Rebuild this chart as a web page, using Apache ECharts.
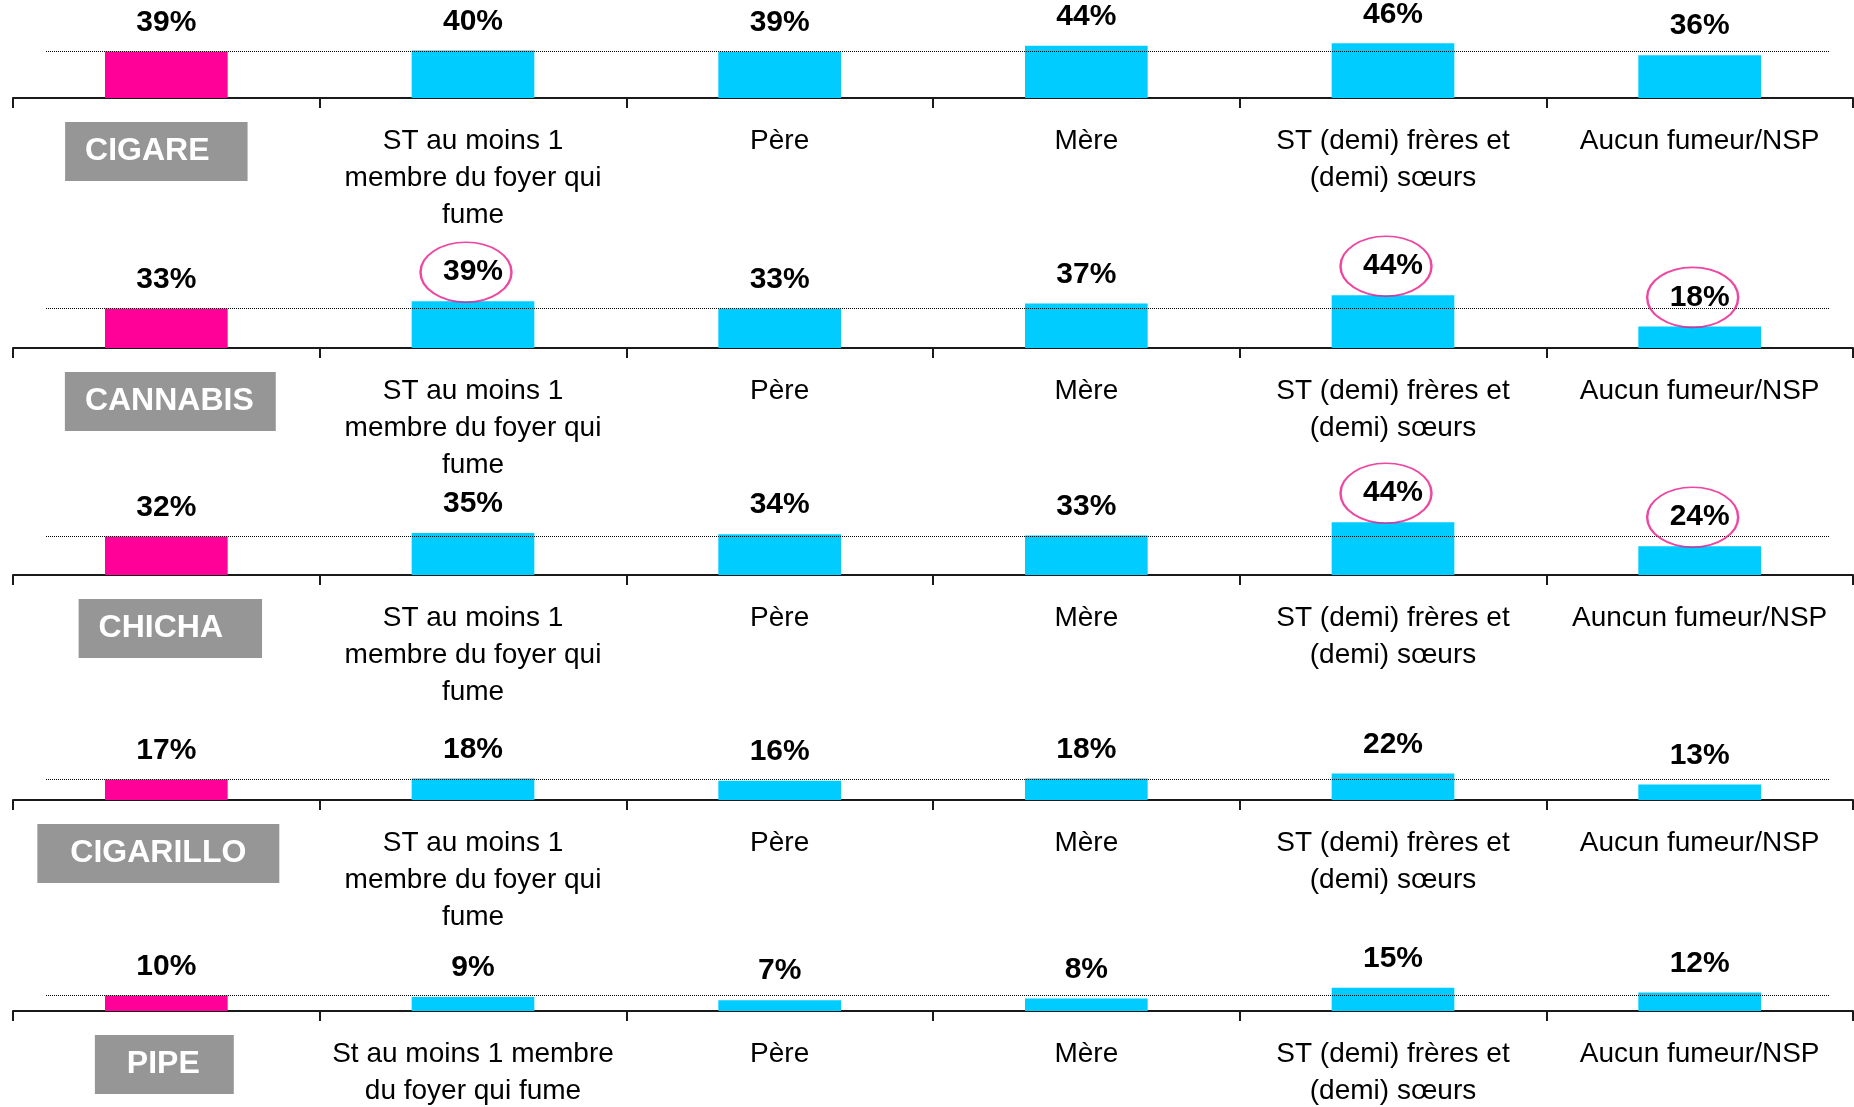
<!DOCTYPE html>
<html>
<head>
<meta charset="utf-8">
<script src="https://cdn.jsdelivr.net/npm/echarts@6/dist/echarts.min.js"></script>
<style>
  html, body { margin: 0; padding: 0; background: #fff; }
  #chart { width: 1854px; height: 1107px; }
</style>
</head>
<body>
<div id="chart"></div>
<script>
// produits (un panneau par produit)
const products = ['CIGARE', 'CANNABIS', 'CHICHA', 'CIGARILLO', 'PIPE'];

// libellés des colonnes de chaque panneau
const membersStd = ['ST au moins 1\nmembre du foyer qui\nfume', 'Père', 'Mère', 'ST (demi) frères et\n(demi) sœurs', 'Aucun fumeur/NSP'];
const membersChicha = ['ST au moins 1\nmembre du foyer qui\nfume', 'Père', 'Mère', 'ST (demi) frères et\n(demi) sœurs', 'Auncun fumeur/NSP'];
const membersPipe = ['St au moins 1 membre\ndu foyer qui fume', 'Père', 'Mère', 'ST (demi) frères et\n(demi) sœurs', 'Aucun fumeur/NSP'];
const memberLabels = [membersStd, membersStd, membersChicha, membersStd, membersPipe];

// valeurs en % : total puis chaque membre
const cigareValues = [39, 40, 39, 44, 46, 36];
const cannabisValues = [33, 39, 33, 37, 44, 18];
const chichaValues = [32, 35, 34, 33, 44, 24];
const cigarilloValues = [17, 18, 16, 18, 22, 13];
const pipeValues = [10, 9, 7, 8, 15, 12];
const values = [cigareValues, cannabisValues, chichaValues, cigarilloValues, pipeValues];

// index des valeurs entourées
const circled = [[], [1, 4, 5], [4, 5], [], []];

// mise en page (pixels)
const layout = [
    {axisY: 98, scale: 1.19, padL: 20, padR: 38, shift: -10},
    {axisY: 348, scale: 1.2, padL: 20, padR: 22, shift: 4},
    {axisY: 575, scale: 1.2, padL: 20, padR: 39, shift: 4},
    {axisY: 800, scale: 1.2, padL: 33, padR: 33, shift: -8},
    {axisY: 1011, scale: 1.55, padL: 32, padR: 34, shift: -2},
];

const FONT = '"Liberation Sans", Arial, sans-serif';
const PINK = '#FF0099';
const BLUE = '#00CCFF';
const Y_MAX = 60;

const grids = [], xAxes = [], yAxes = [], series = [];

products.forEach((name, i) => {
    const L = layout[i];
    const h = Y_MAX * L.scale;
    grids.push({left: 13, right: 1, top: L.axisY - h, height: h, outerBoundsMode: 'none'});

    const spW = Math.abs(L.shift) * 2;
    xAxes.push({
        type: 'category',
        gridIndex: i,
        data: [name].concat(memberLabels[i]),
        axisLine: {lineStyle: {color: '#1a1a1a', width: 2}},
        axisTick: {show: true, interval: 0, alignWithLabel: false, length: 10, lineStyle: {color: '#1a1a1a', width: 2}},
        axisLabel: {
            interval: 0,
            margin: 25,
            fontSize: 28,
            lineHeight: 37,
            color: '#000',
            fontFamily: FONT,
            formatter: (v, idx) => {
                if (idx !== 0) return v;
                if (L.shift > 0) return '{sp| }{box|' + v + '}';
                return '{box|' + v + '}{sp| }';
            },
            rich: {
                box: {
                    backgroundColor: '#969696',
                    color: '#fff',
                    fontWeight: 'bold',
                    fontSize: 32,
                    lineHeight: 57,
                    fontFamily: FONT,
                    padding: [13, L.padR, 14, L.padL]
                },
                sp: {width: spW, fontSize: 10, lineHeight: 10}
            }
        }
    });
    yAxes.push({type: 'value', gridIndex: i, min: 0, max: Y_MAX, show: false, splitLine: {show: false}});

    series.push({
        type: 'bar',
        xAxisIndex: i,
        yAxisIndex: i,
        data: values[i],
        barWidth: '40%',
        itemStyle: {color: p => p.dataIndex === 0 ? PINK : BLUE},
        label: {
            show: true,
            position: 'top',
            distance: 14,
            formatter: '{c}%',
            fontSize: 30,
            fontWeight: 'bold',
            color: '#000',
            fontFamily: FONT
        },
        markLine: {
            silent: true,
            symbol: 'none',
            label: {show: false},
            lineStyle: {type: 'dotted', color: '#000', width: 1},
            data: [[{yAxis: values[i][0], x: 46}, {yAxis: values[i][0], x: 1830}]]
        }
    });

    series.push({
        type: 'scatter',
        xAxisIndex: i,
        yAxisIndex: i,
        silent: true,
        z: 5,
        data: values[i].map((v, k) => circled[i].indexOf(k) >= 0 ? v : '-'),
        symbol: 'circle',
        symbolSize: [91, 60],
        symbolOffset: [-7, -29],
        itemStyle: {color: 'rgba(0,0,0,0)', borderColor: '#E8198B', borderWidth: 2}
    });
});

const chart = echarts.init(document.getElementById('chart'));
chart.setOption({
    animation: false,
    textStyle: {fontFamily: FONT},
    grid: grids,
    xAxis: xAxes,
    yAxis: yAxes,
    series: series
});
</script>
</body>
</html>
